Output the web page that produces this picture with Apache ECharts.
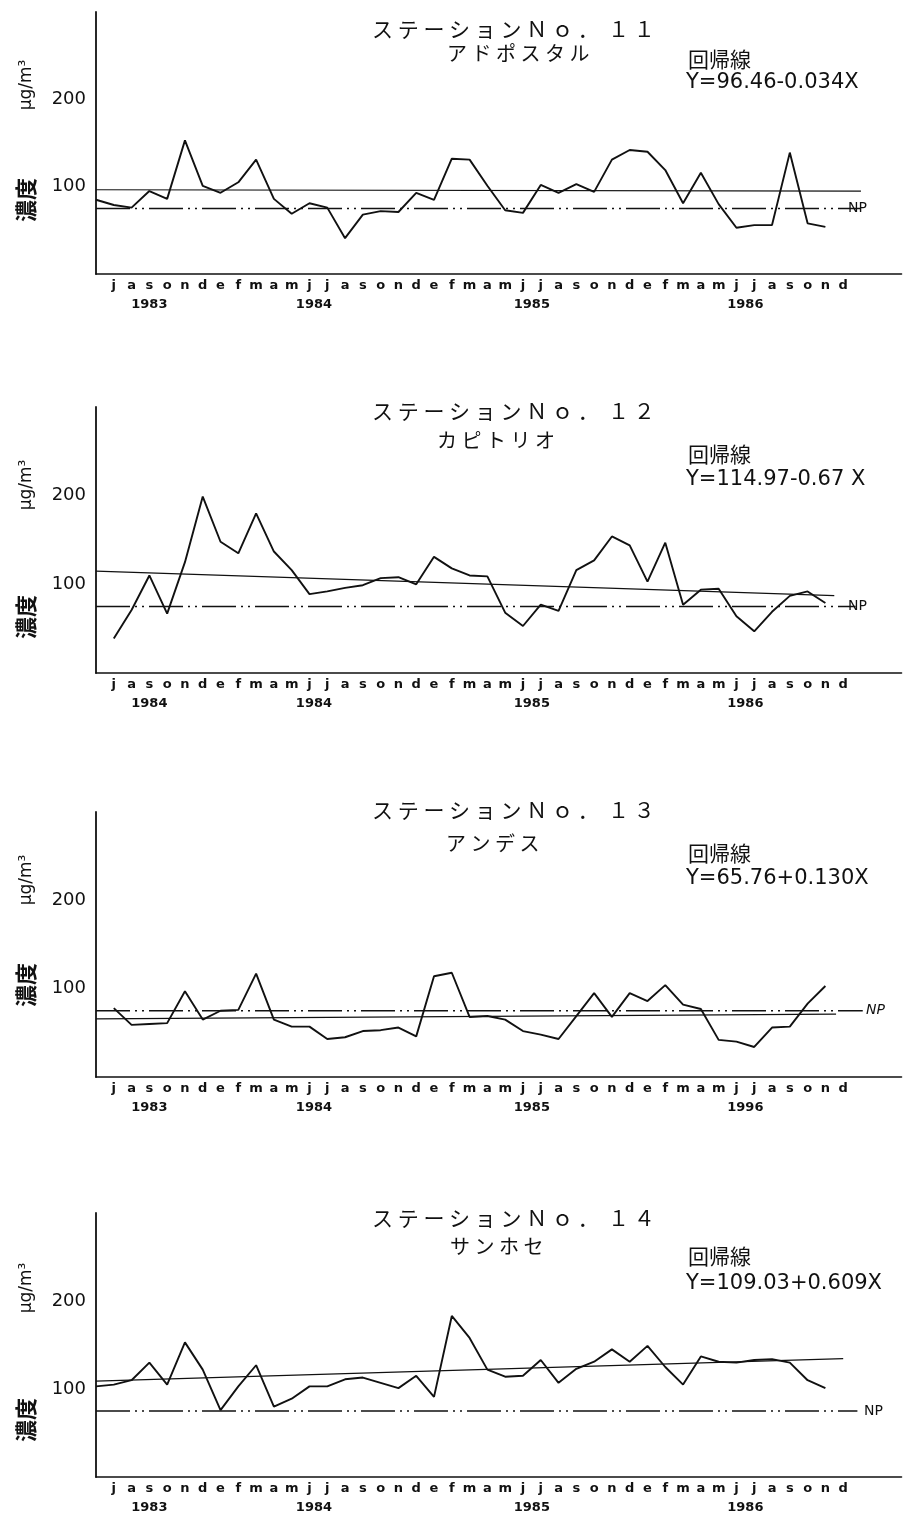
<!DOCTYPE html>
<html>
<head>
<meta charset="utf-8">
<script src="https://cdn.jsdelivr.net/npm/echarts@6/dist/echarts.min.js"></script>
<style>
  html, body { margin: 0; padding: 0; background: #fff; }
  #chart { width: 904px; height: 1523px; }
</style>
</head>
<body>
<div id="chart"></div>
<script>
// Month initials (Spanish), July 1983 - December 1986, one per month index 0..41
const monthLetters = [
  'j','a','s','o','n','d','e','f','m','a','m','j',
  'j','a','s','o','n','d','e','f','m','a','m','j',
  'j','a','s','o','n','d','e','f','m','a','m','j',
  'j','a','s','o','n','d'
];

// Year captions under the month row, and the month index each is centred on
const yearPositions = [2, 11.25, 23.5, 35.5];
const yearLabels11 = ['1983', '1984', '1985', '1986'];
const yearLabels12 = ['1984', '1984', '1985', '1986'];
const yearLabels13 = ['1983', '1984', '1985', '1996'];
const yearLabels14 = ['1983', '1984', '1985', '1986'];

// Monthly concentrations (µg/m3) per station
const station11 = [85, 79, 76, 95, 86, 153, 101, 93, 105, 131, 86, 69, 81, 76, 41, 68, 72, 71,
  93, 85, 132, 131, 101, 73, 70, 102, 93, 103, 94, 131, 142, 140, 119, 81, 116, 80, 53, 56, 56, 139, 58, 54];
const station12 = [39, 71, 110, 67, 125, 199, 148, 135, 180, 137, 116, 89, 92, 96, 99, 107, 108, 100,
  131, 118, 110, 109, 68, 53, 77, 70, 116, 127, 154, 144, 103, 147, 77, 94, 95, 64, 47, 69, 87, 92, 79];
const station13 = [78, 59, 60, 61, 97, 65, 75, 76, 117, 65, 57, 57, 43, 45, 52, 53, 56, 46,
  114, 118, 68, 69, 65, 52, 48, 43, 69, 95, 68, 95, 86, 104, 82, 77, 42, 40, 34, 56, 57, 83, 103];
const station14 = [103, 105, 110, 130, 105, 153, 122, 76, 103, 127, 80, 89, 103, 103, 111, 113, 107, 101,
  115, 91, 183, 158, 122, 114, 115, 133, 107, 123, 131, 145, 131, 149, 125, 105, 137, 131, 130, 133, 134, 130, 110, 101];

// Month index of each station's first reading (-1 = June 1983)
const firstMonth = [-1, 0, 0, -1];

const stationNumbers = ['11', '12', '13', '14'];
const stationNames = ['アドポスタル', 'カピトリオ', 'アンデス', 'サンホセ'];

// Regression lines Y = a + bX, X counted in months from June 1983
const regressionIntercepts = [96.46, 114.97, 65.76, 109.03];
const regressionSlopes = [-0.034, -0.67, 0.130, 0.609];
const regressionLabels = ['Y=96.46-0.034X', 'Y=114.97-0.67 X', 'Y=65.76+0.130X', 'Y=109.03+0.609X'];
const regressionLastX = [43, 41.5, 41.6, 42];

// Standard (NP) level and where its line stops on the month axis
const npLevel = 75;
const npLastMonth = [42, 41.7, 42.1, 41.8];

const yTicks = [100, 200];

const stationValues = [station11, station12, station13, station14];
const stationYears = [yearLabels11, yearLabels12, yearLabels13, yearLabels14];

// ---- layout ----
const gridLeft = 96, gridWidth = 806;
const monthMin = -1, monthMax = 44.28;
const gridTops = [12, 407, 812, 1213];
const gridHeights = [262, 266, 265, 264];
const titleY = [29, 411, 810, 1218];
const nameY = [53, 440, 843, 1246];
const nameX = [447, 437, 446, 450];
const regTitleY = [59, 454, 853, 1256];
const regFormulaY = [83, 480, 879, 1284];
const unitY = [85, 485, 880, 1288];
const densityY = [200, 617, 985, 1420];
const npLabelX = [848, 848, 866, 864];

const ink = '#111';
const sansFont = 'DejaVu Sans';
const jpFont = '"Noto Sans CJK JP"';
const spaced = s => s.split('').join(' ');
const fullWidth = s => s.replace(/\d/g, d => String.fromCharCode(d.charCodeAt(0) + 0xFEE0));

const grids = [], xAxes = [], yAxes = [], series = [], graphics = [];

stationValues.forEach((values, g) => {
  grids.push({ left: gridLeft, top: gridTops[g], width: gridWidth, height: gridHeights[g] });

  // month initials
  xAxes.push({
    gridIndex: g, type: 'value', position: 'bottom', min: monthMin, max: monthMax, interval: 1,
    axisLine: { onZero: false, lineStyle: { color: ink, width: 1.6 } },
    axisTick: { show: false }, splitLine: { show: false },
    axisLabel: {
      margin: 5, fontSize: 13, fontWeight: 'bold', fontFamily: sansFont, color: ink,
      showMinLabel: true, showMaxLabel: false,
      formatter: v => {
        const i = Math.round(v);
        return (Math.abs(v - i) < 1e-6 && i >= 0 && i < monthLetters.length) ? monthLetters[i] : '';
      }
    }
  });
  // years
  xAxes.push({
    gridIndex: g, type: 'value', position: 'bottom', min: monthMin, max: monthMax, interval: 0.25,
    axisLine: { show: false }, axisTick: { show: false }, splitLine: { show: false },
    axisLabel: {
      margin: 24, fontSize: 13, fontWeight: 'bold', fontFamily: sansFont, color: ink,
      showMinLabel: true, showMaxLabel: false,
      formatter: v => {
        const k = yearPositions.findIndex(q => Math.abs(q - v) < 1e-6);
        return k >= 0 ? stationYears[g][k] : '';
      }
    }
  });
  yAxes.push({
    gridIndex: g, type: 'value', min: 0, max: 300, interval: 100,
    axisLine: { show: true, onZero: false, lineStyle: { color: ink, width: 1.8 } },
    axisTick: { show: false }, splitLine: { show: false },
    axisLabel: {
      margin: 10, fontSize: 18, fontFamily: sansFont, color: ink,
      formatter: v => yTicks.includes(v) ? String(v) : ''
    }
  });

  const a = regressionIntercepts[g], b = regressionSlopes[g], xe = regressionLastX[g];
  series.push({
    type: 'line', xAxisIndex: 2 * g, yAxisIndex: g, silent: true, symbol: 'none',
    lineStyle: { color: ink, width: 1.2 },
    data: [[-1, a], [xe - 1, a + b * xe]]
  });
  series.push({
    type: 'line', xAxisIndex: 2 * g, yAxisIndex: g, silent: true, symbol: 'none',
    lineStyle: { color: ink, width: 1.3, type: [34, 5, 2, 5, 2, 5] },
    data: [[-1, npLevel], [npLastMonth[g], npLevel]]
  });
  series.push({
    type: 'line', xAxisIndex: 2 * g, yAxisIndex: g, silent: true, symbol: 'none',
    lineStyle: { color: ink, width: 1.9 },
    data: values.map((v, k) => [firstMonth[g] + k, v])
  });

  // titles and annotations
  graphics.push({
    type: 'text', x: 372, y: titleY[g],
    style: { text: spaced('ステーションＮｏ．') + '  ' + spaced(fullWidth(stationNumbers[g])),
      font: '21px ' + jpFont, fill: ink, textAlign: 'left', textVerticalAlign: 'middle' }
  });
  graphics.push({
    type: 'text', x: nameX[g], y: nameY[g],
    style: { text: spaced(stationNames[g]), font: '20px ' + jpFont, fill: ink, textAlign: 'left', textVerticalAlign: 'middle' }
  });
  graphics.push({
    type: 'text', x: 688, y: regTitleY[g],
    style: { text: '回帰線', font: '21px ' + jpFont, fill: ink, textAlign: 'left', textVerticalAlign: 'middle' }
  });
  graphics.push({
    type: 'text', x: 686, y: regFormulaY[g],
    style: { text: regressionLabels[g], font: '21px ' + sansFont, fill: ink, textAlign: 'left', textVerticalAlign: 'middle' }
  });
  const npY = gridTops[g] + gridHeights[g] * (1 - npLevel / 300);
  graphics.push({
    type: 'text', x: npLabelX[g], y: npY,
    style: { text: 'NP', font: (g === 2 ? 'italic ' : '') + '14px ' + sansFont, fill: ink, textAlign: 'left', textVerticalAlign: 'middle' }
  });
  graphics.push({
    type: 'text', x: 27, y: unitY[g], rotation: Math.PI / 2,
    style: { text: 'μg/m³', font: '17px ' + sansFont, fill: ink, textAlign: 'center', textVerticalAlign: 'middle' }
  });
  graphics.push({
    type: 'text', x: 26, y: densityY[g], rotation: Math.PI / 2,
    style: { text: '濃度', font: 'bold 22px ' + jpFont, fill: ink, textAlign: 'center', textVerticalAlign: 'middle' }
  });
});

const chart = echarts.init(document.getElementById('chart'), null, { renderer: 'canvas' });
chart.setOption({
  backgroundColor: '#fff',
  animation: false,
  grid: grids,
  xAxis: xAxes,
  yAxis: yAxes,
  series: series,
  graphic: graphics
});
</script>
</body>
</html>
